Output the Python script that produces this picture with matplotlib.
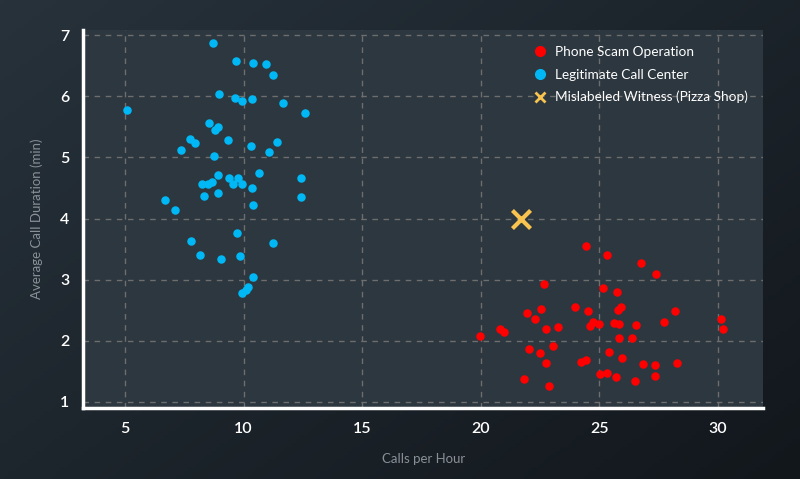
import numpy as np
import matplotlib
matplotlib.use("Agg")
import matplotlib.pyplot as plt
from matplotlib.lines import Line2D

plt.rcParams["font.family"] = ["Lato", "DejaVu Sans"]

# legitimate call center (calls per hour, avg duration in min)
legit_x = [8.70, 9.68, 10.41, 10.94, 11.23, 8.97, 9.64, 9.94, 10.37, 11.64,
           5.07, 12.58, 8.53, 8.92, 8.80, 9.36, 7.73, 7.95, 11.41, 10.30,
           7.36, 11.08, 8.76, 8.92, 10.64, 12.40, 9.38, 9.77, 8.68, 8.24,
           8.50, 9.53, 9.94, 10.35, 8.33, 8.92, 12.43, 6.67, 10.40, 7.11,
           9.74, 7.78, 11.22, 8.15, 9.06, 9.86, 10.39, 10.18, 10.09, 9.95]
legit_y = [6.87, 6.57, 6.54, 6.53, 6.34, 6.03, 5.97, 5.93, 5.95, 5.89,
           5.78, 5.72, 5.56, 5.49, 5.44, 5.29, 5.30, 5.24, 5.25, 5.18,
           5.12, 5.08, 5.02, 4.71, 4.75, 4.67, 4.66, 4.66, 4.59, 4.57,
           4.56, 4.57, 4.57, 4.50, 4.37, 4.42, 4.35, 4.30, 4.22, 4.14,
           3.77, 3.63, 3.60, 3.41, 3.34, 3.39, 3.04, 2.88, 2.83, 2.79]

# phone scam operation
scam_x = [24.45, 25.31, 26.76, 27.39, 22.67, 25.18, 25.77, 25.90, 25.80, 23.97,
          24.53, 22.53, 21.96, 28.21, 22.29, 27.73, 24.74, 24.60, 24.99, 25.63,
          25.84, 26.57, 22.75, 23.28, 20.80, 20.98, 19.97, 25.84, 26.40, 23.05,
          22.02, 25.43, 22.49, 25.96, 24.45, 24.22, 22.76, 28.28, 26.83, 27.35,
          25.32, 25.04, 27.35, 25.72, 21.83, 26.49, 22.90, 30.16, 30.24]
scam_y = [3.55, 3.41, 3.27, 3.10, 2.93, 2.86, 2.80, 2.56, 2.50, 2.55,
          2.48, 2.52, 2.46, 2.49, 2.35, 2.31, 2.31, 2.25, 2.27, 2.29,
          2.27, 2.26, 2.19, 2.22, 2.20, 2.14, 2.08, 2.05, 2.05, 1.92,
          1.86, 1.82, 1.80, 1.72, 1.69, 1.66, 1.64, 1.64, 1.62, 1.60,
          1.47, 1.45, 1.42, 1.41, 1.38, 1.34, 1.26, 2.35, 2.19]

witness_x = [21.7]
witness_y = [4.0]

RED, BLUE, GOLD = "#ff0000", "#00b8f5", "#f9c34f"

fig = plt.figure(figsize=(8, 4.79), dpi=100)

# dark gradient background
bg = fig.add_axes([0, 0, 1, 1], zorder=-10)
gx, gy = np.meshgrid(np.linspace(0, 1, 200), np.linspace(0, 1, 120))
t = 0.55 * gx + 0.45 * gy
c0 = np.array([0x27, 0x32, 0x3b]) / 255
c1 = np.array([0x12, 0x17, 0x1c]) / 255
img = c0[None, None, :] * (1 - t[..., None]) + c1[None, None, :] * t[..., None]
bg.imshow(img, aspect="auto", extent=[0, 1, 0, 1], origin="upper")
bg.axis("off")

ax = fig.add_axes([0.104, 0.148, 0.850, 0.789])
ax.set_facecolor("#2d373f")

ax.scatter(scam_x, scam_y, s=26, color=RED, zorder=3)
ax.scatter(legit_x, legit_y, s=26, color=BLUE, zorder=3)
ax.scatter(witness_x, witness_y, s=170, marker="x", color=GOLD, linewidths=3, zorder=4)

ax.set_xlim(3.23, 31.92)
ax.set_ylim(0.9, 7.08)
ax.set_xticks([5, 10, 15, 20, 25, 30])
ax.set_yticks([1, 2, 3, 4, 5, 6, 7])
ax.grid(True, color="#6e6e6e", linestyle=(0, (4, 4)), linewidth=1)
ax.set_axisbelow(True)

for side in ["top", "right"]:
    ax.spines[side].set_visible(False)
for side in ["left", "bottom"]:
    ax.spines[side].set_color("white")
    ax.spines[side].set_linewidth(2.5)

ax.tick_params(length=0, colors="white", labelsize=11.5, pad=10)
for lab in ax.get_xticklabels() + ax.get_yticklabels():
    lab.set_fontweight("semibold")
ax.set_xlabel("Calls per Hour", color="#8a9097", fontsize=9.5, labelpad=12)
ax.set_ylabel("Average Call Duration (min)", color="#8a9097", fontsize=9.5, labelpad=12)

handles = [
    Line2D([], [], linestyle="none", marker="o", markersize=7, color=RED),
    Line2D([], [], linestyle="none", marker="o", markersize=7, color=BLUE),
    Line2D([], [], linestyle="none", marker="x", markersize=7, markeredgewidth=2, color=GOLD),
]
labels = ["Phone Scam Operation", "Legitimate Call Center", "Mislabeled Witness (Pizza Shop)"]
ax.legend(handles, labels, loc="upper right", bbox_to_anchor=(0.995, 0.99), frameon=False,
          fontsize=9.8, labelcolor="white", handletextpad=0.45, handlelength=1.2,
          labelspacing=0.76)

fig.savefig("out.png", dpi=100, facecolor="#1e262d")
